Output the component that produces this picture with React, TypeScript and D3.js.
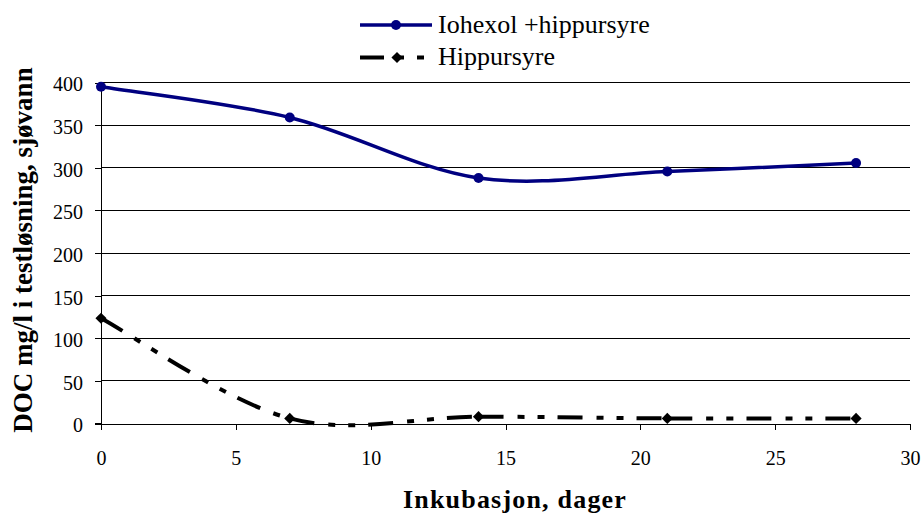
import React, { useRef, useEffect } from "react";
import * as d3 from "d3";

// chart values
const days = [0, 7, 14, 21, 28];
const iohexolHippursyre = [395, 359, 288, 295.5, 305.5];
const hippursyre = [123.5, 6, 8, 6, 6];
const seriesNames = ["Iohexol +hippursyre", "Hippursyre"];
const xTicks = [0, 5, 10, 15, 20, 25, 30];
const yTicks = [0, 50, 100, 150, 200, 250, 300, 350, 400];
const xTitle = "Inkubasjon, dager";
const yTitle = "DOC mg/l i testløsning, sjøvann";

const WIDTH = 924;
const HEIGHT = 514;
const SERIF = "Liberation Serif, Tinos, DejaVu Serif, serif";
const NAVY = "#000080";
const DASH = "25,14,7,13,7,13";

// one smoothed bezier path per segment, so the dash pattern restarts at each point (like Excel)
function smoothSegments(pts: [number, number][]): string[] {
    const out: string[] = [];
    for (let i = 0; i < pts.length - 1; i++) {
        const p0 = pts[Math.max(i - 1, 0)];
        const p1 = pts[i];
        const p2 = pts[i + 1];
        const p3 = pts[Math.min(i + 2, pts.length - 1)];
        const p = d3.path();
        p.moveTo(p1[0], p1[1]);
        p.bezierCurveTo(
            p1[0] + (p2[0] - p0[0]) / 6,
            p1[1] + (p2[1] - p0[1]) / 6,
            p2[0] - (p3[0] - p1[0]) / 6,
            p2[1] - (p3[1] - p1[1]) / 6,
            p2[0],
            p2[1]
        );
        out.push(p.toString());
    }
    return out;
}

function Chart() {
    const svgRef = useRef<SVGSVGElement>(null);

    useEffect(() => {
        const svg = d3.select(svgRef.current);
        svg.selectAll("*").remove();

        const x = d3.scaleLinear().domain([0, 30]).range([101, 910]);
        const y = d3.scaleLinear().domain([0, 400]).range([423.5, 82.5]);

        // gridlines
        svg.append("g")
            .selectAll("line")
            .data(yTicks.filter((t) => t > 0))
            .join("line")
            .attr("x1", x(0))
            .attr("x2", x(30))
            .attr("y1", (d) => y(d))
            .attr("y2", (d) => y(d))
            .attr("stroke", "#000")
            .attr("shape-rendering", "crispEdges");

        // y axis
        const yAxis = d3.axisLeft(y).tickValues(yTicks).tickSize(6).tickSizeOuter(0).tickPadding(12);
        const gy = svg.append("g").attr("transform", `translate(${x(0)},0)`).call(yAxis);
        gy.attr("font-family", null).attr("font-size", null);
        gy.select(".domain").attr("shape-rendering", "crispEdges");
        gy.selectAll(".tick line").attr("shape-rendering", "crispEdges");
        gy.selectAll("text")
            .style("font-family", SERIF)
            .style("font-size", "20px")
            .attr("fill", "#000")
            .attr("dy", "0.42em");

        // x axis
        const xAxis = d3.axisBottom(x).tickValues(xTicks).tickSize(6).tickSizeOuter(0).tickPadding(21);
        const gx = svg.append("g").attr("transform", `translate(0,${y(0)})`).call(xAxis);
        gx.attr("font-family", null).attr("font-size", null);
        gx.select(".domain").attr("shape-rendering", "crispEdges");
        gx.selectAll(".tick line").attr("shape-rendering", "crispEdges");
        gx.selectAll("text")
            .style("font-family", SERIF)
            .style("font-size", "20px")
            .attr("fill", "#000");
        // extend x axis line left to the y tick marks
        svg.append("line")
            .attr("x1", x(0) - 6)
            .attr("x2", x(0))
            .attr("y1", y(0))
            .attr("y2", y(0))
            .attr("stroke", "#000")
            .attr("shape-rendering", "crispEdges");

        // series 1: Iohexol + hippursyre
        const pts1 = days.map((d, i) => [x(d), y(iohexolHippursyre[i])] as [number, number]);
        svg.append("g")
            .selectAll("path")
            .data(smoothSegments(pts1))
            .join("path")
            .attr("d", (d) => d)
            .attr("fill", "none")
            .attr("stroke", NAVY)
            .attr("stroke-width", 3.5);
        svg.append("g")
            .selectAll("circle")
            .data(pts1)
            .join("circle")
            .attr("cx", (d) => d[0])
            .attr("cy", (d) => d[1])
            .attr("r", 5)
            .attr("fill", NAVY);

        // series 2: Hippursyre
        const pts2 = days.map((d, i) => [x(d), y(hippursyre[i])] as [number, number]);
        svg.append("g")
            .selectAll("path")
            .data(smoothSegments(pts2))
            .join("path")
            .attr("d", (d) => d)
            .attr("fill", "none")
            .attr("stroke", "#000")
            .attr("stroke-width", 4)
            .attr("stroke-dasharray", DASH);
        const diamond = d3.symbol().type(d3.symbolSquare).size(62);
        svg.append("g")
            .selectAll("path")
            .data(pts2)
            .join("path")
            .attr("d", diamond)
            .attr("transform", (d) => `translate(${d[0]},${d[1]}) rotate(45)`)
            .attr("fill", "#000");

        // legend
        const legend = svg.append("g");
        legend.append("line")
            .attr("x1", 360).attr("x2", 432).attr("y1", 25).attr("y2", 25)
            .attr("stroke", NAVY).attr("stroke-width", 3.5);
        legend.append("circle").attr("cx", 396).attr("cy", 25).attr("r", 5).attr("fill", NAVY);
        legend.append("line")
            .attr("x1", 360).attr("x2", 432).attr("y1", 57.5).attr("y2", 57.5)
            .attr("stroke", "#000").attr("stroke-width", 4)
            .attr("stroke-dasharray", "24,13,7,13,7,13");
        legend.append("path")
            .attr("d", diamond)
            .attr("transform", "translate(397,57.5) rotate(45)")
            .attr("fill", "#000");
        legend.selectAll("text")
            .data(seriesNames)
            .join("text")
            .attr("x", 438)
            .attr("y", (d, i) => 33 + i * 32)
            .style("font-family", SERIF)
            .style("font-size", "26px")
            .attr("fill", "#000")
            .text((d) => d);

        // axis titles
        svg.append("text")
            .attr("x", 515)
            .attr("y", 508)
            .attr("text-anchor", "middle")
            .style("font-family", SERIF)
            .style("font-size", "26px")
            .style("font-weight", "bold")
            .style("letter-spacing", "1.2px")
            .text(xTitle);
        svg.append("text")
            .attr("transform", "translate(32,250) rotate(-90)")
            .attr("text-anchor", "middle")
            .style("font-family", SERIF)
            .style("font-size", "27px")
            .style("font-weight", "bold")
            .text(yTitle);
    }, []);

    return (
        <svg
            ref={svgRef}
            width={WIDTH}
            height={HEIGHT}
            style={{ position: "absolute", left: 0, top: 0, background: "#fff" }}
        ></svg>
    );
}

export default function App() {
    return <Chart />;
}
